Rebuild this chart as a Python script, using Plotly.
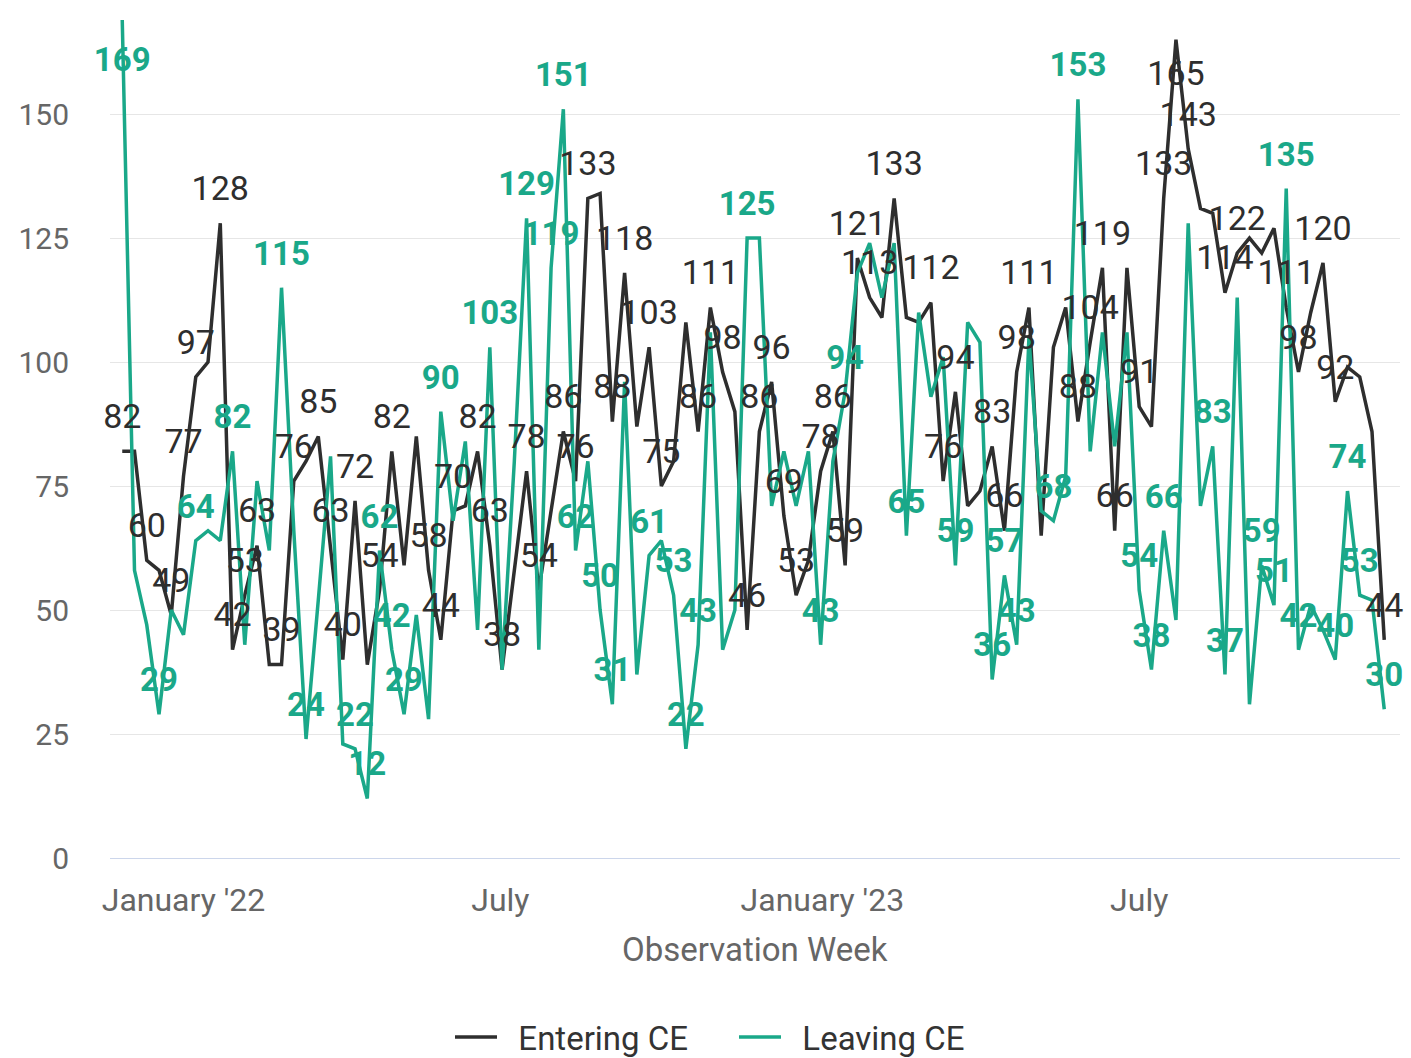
import plotly.graph_objects as go
import pandas as pd

# Weekly observation dates
weeks = pd.date_range("2021-11-27", periods=104, freq="7D")

entering = [82, 82, 60, 58, 49, 77, 97, 100, 128, 42,
            53, 63, 39, 39, 76, 80, 85, 63, 40, 72,
            39, 54, 82, 59, 85, 58, 44, 70, 71, 82,
            63, 38, 58, 78, 54, 70, 86, 76, 133, 134,
            88, 118, 87, 103, 75, 80, 108, 86, 111, 98,
            90, 46, 86, 96, 69, 53, 60, 78, 86, 59,
            121, 113, 109, 133, 109, 108, 112, 76, 94, 71,
            74, 83, 66, 98, 111, 65, 103, 111, 88, 104,
            119, 66, 119, 91, 87, 133, 165, 143, 131, 130,
            114, 122, 125, 122, 127, 111, 98, 110, 120, 92,
            99, 97, 86, 44]

leaving = [169, 58, 47, 29, 50, 45, 64, 66, 64, 82,
           43, 76, 62, 115, 66, 24, 52, 81, 23, 22,
           12, 62, 42, 29, 49, 28, 90, 68, 84, 46,
           103, 38, 80, 129, 42, 119, 151, 62, 80, 50,
           31, 96, 37, 61, 64, 53, 22, 43, 106, 42,
           50, 125, 125, 71, 82, 71, 82, 43, 80, 94,
           118, 124, 113, 124, 65, 110, 93, 101, 59, 108,
           104, 36, 57, 43, 105, 70, 68, 77, 153, 82,
           106, 83, 106, 54, 38, 66, 48, 128, 71, 83,
           37, 113, 31, 59, 51, 135, 42, 51, 46, 40,
           74, 53, 52, 30]

# Indices of points that carry a data label in the reference
entering_labeled = [0, 2, 4, 5, 6, 8, 9, 10, 11, 13, 14, 16, 17, 18, 19, 21, 22,
                    25, 26, 27, 29, 30, 31, 33, 34, 36, 37, 38, 40, 41, 43, 44,
                    47, 48, 49, 51, 52, 53, 54, 55, 57, 58, 59, 60, 61, 63, 66,
                    67, 68, 71, 72, 73, 74, 78, 79, 80, 81, 83, 85, 86, 87, 90,
                    91, 95, 96, 98, 99, 103]
leaving_labeled = [0, 3, 6, 9, 13, 15, 19, 20, 21, 22, 23, 26, 30, 33, 35, 36, 37,
                   39, 40, 43, 45, 46, 47, 51, 57, 59, 64, 68, 71, 72, 73, 76, 78,
                   83, 84, 85, 89, 90, 93, 94, 95, 96, 99, 100, 101, 103]
# Labels that sit below their point (at the top edge of the plot)
entering_below = {86}
leaving_below = {0}

tick_vals = ["2022-01-01", "2022-07-01", "2023-01-01", "2023-07-01"]
tick_text = ["January '22", "July", "January '23", "July"]
y_ticks = [0, 25, 50, 75, 100, 125, 150]

DARK = "#2e2e2e"
TEAL = "#1aa889"
FONT = "Roboto"

fig = go.Figure()

fig.add_trace(go.Scatter(
    x=weeks, y=entering, mode="lines", name="\u00a0\u00a0Entering CE",
    line=dict(color=DARK, width=3.5)))
fig.add_trace(go.Scatter(
    x=weeks, y=leaving, mode="lines", name="\u00a0\u00a0Leaving CE",
    line=dict(color=TEAL, width=3.5)))

fig.add_trace(go.Scatter(
    x=[weeks[i] for i in entering_labeled],
    y=[entering[i] for i in entering_labeled],
    text=[str(entering[i]) for i in entering_labeled],
    mode="markers+text",
    textposition=["bottom center" if i in entering_below else "top center"
                  for i in entering_labeled],
    marker=dict(size=[30 if i in entering_below else 22 for i in entering_labeled],
                opacity=0),
    textfont=dict(family=FONT, size=34, color=DARK),
    cliponaxis=False, showlegend=False, hoverinfo="skip"))
fig.add_trace(go.Scatter(
    x=[weeks[i] for i in leaving_labeled],
    y=[leaving[i] for i in leaving_labeled],
    text=["<b>%d</b>" % leaving[i] for i in leaving_labeled],
    mode="markers+text",
    textposition=["bottom center" if i in leaving_below else "top center"
                  for i in leaving_labeled],
    marker=dict(size=[40 if i in leaving_below else 22 for i in leaving_labeled],
                opacity=0),
    textfont=dict(family=FONT, size=33, color=TEAL),
    cliponaxis=False, showlegend=False, hoverinfo="skip"))

fig.update_layout(
    width=1411, height=1058,
    margin=dict(l=110, r=11, t=10, b=200, autoexpand=False),
    paper_bgcolor="white", plot_bgcolor="white",
    font=dict(family=FONT, color="#666666"),
    showlegend=True,
    legend=dict(orientation="h", x=(450 - 110) / 1290, xanchor="left",
                y=-0.211, yanchor="middle",
                font=dict(family=FONT, size=33, color="#333333"),
                itemwidth=42, entrywidth=227, tracegroupgap=0),
    annotations=[dict(text="Observation Week", xref="paper", yref="paper",
                      x=0.5, y=-0.108, xanchor="center", yanchor="middle",
                      showarrow=False,
                      font=dict(family=FONT, size=33, color="#666666"))],
)

fig.update_xaxes(
    range=["2021-11-20", "2023-11-27"],
    tickvals=tick_vals, ticktext=tick_text,
    tickfont=dict(family=FONT, size=32, color="#666666"),
    showgrid=False, showline=True, linecolor="#ccd6eb", linewidth=1,
    ticks="", ticklabelstandoff=14, zeroline=False)
fig.update_yaxes(
    range=[0, 171], tickvals=y_ticks,
    tickfont=dict(family=FONT, size=30, color="#666666"),
    showgrid=True, gridcolor="#e6e6e6", gridwidth=1,
    zeroline=False, ticks="", ticklabelstandoff=40)

# Remove the default page margin so the figure fills the window exactly
fig.write_html("out.html",
               config={"displayModeBar": False},
               post_script="document.body.style.margin='0px';"
                           "document.body.style.overflow='hidden';")
